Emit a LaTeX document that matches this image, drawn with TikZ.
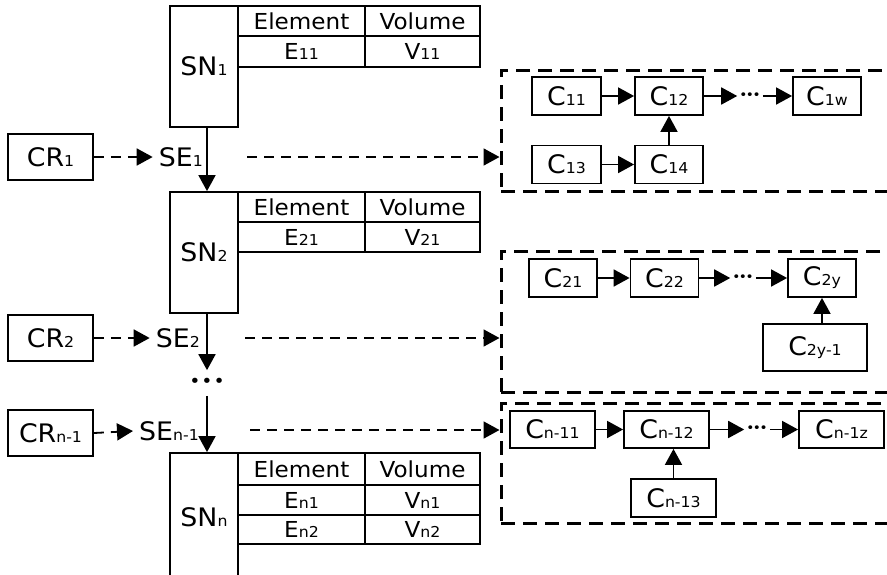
\documentclass[tikz,border=0pt]{standalone}
\usepackage{fontspec}
\setmainfont{DejaVu Sans}[FakeStretch=1.05]
\usetikzlibrary{arrows.meta, positioning, calc}
\newcommand{\lo}[1]{{\fontsize{15}{16}\selectfont #1}}
\newcommand{\labelfont}{\fontsize{25.5}{27}\selectfont}
\newcommand{\cellfont}{\fontsize{22}{24}\selectfont}
\tikzset{
  box/.style={draw, line width=1.8pt, inner sep=0pt, font=\labelfont},
  cell/.style={box, minimum height=30pt, font=\cellfont},
  cbox/.style={box, minimum width=68pt, minimum height=38pt},
  lbl/.style={inner sep=0pt, inner xsep=6pt, font=\labelfont},
  dotsnode/.style={inner sep=2pt, font=\fontsize{13}{13}\selectfont},
  arr/.style={-{Triangle[length=16pt,width=17pt]}, line width=1.8pt},
  darr/.style={arr, dash pattern=on 10pt off 7pt},
  group/.style={draw, line width=3pt, dash pattern=on 14pt off 8pt, minimum width=394pt},
}

\begin{document}
\begin{tikzpicture}[x=1pt, y=-1pt]
  \useasboundingbox (0,0) rectangle (887,574);
  \clip (0,0) rectangle (887,574);

  % SN1 and its table
  \node[box, minimum width=68pt, minimum height=121pt] (SN1) at (204,66.5) {SN\lo{1}};
  \node[cell, minimum width=127pt] (T1a) at (301.5,21) {Element};
  \node[cell, minimum width=115pt] (T1b) at (422.5,21) {Volume};
  \node[cell, minimum width=127pt, minimum height=31pt] (T1c) at (301.5,51.5) {E\lo{11}};
  \node[cell, minimum width=115pt, minimum height=31pt] (T1d) at (422.5,51.5) {V\lo{11}};

  % SN2 and its table
  \node[box, minimum width=68pt, minimum height=121pt] (SN2) at (204,252.5) {SN\lo{2}};
  \node[cell, minimum width=127pt] (T2a) at (301.5,207) {Element};
  \node[cell, minimum width=115pt] (T2b) at (422.5,207) {Volume};
  \node[cell, minimum width=127pt] (T2c) at (301.5,237) {E\lo{21}};
  \node[cell, minimum width=115pt] (T2d) at (422.5,237) {V\lo{21}};

  % SNn and its table
  \node[box, minimum width=68pt, minimum height=128pt] (SNn) at (204,517) {SN\lo{n}};
  \node[cell, minimum width=127pt, minimum height=32pt] (T3a) at (301.5,469) {Element};
  \node[cell, minimum width=115pt, minimum height=32pt] (T3b) at (422.5,469) {Volume};
  \node[cell, minimum width=127pt] (T3c) at (301.5,500) {E\lo{n1}};
  \node[cell, minimum width=115pt] (T3d) at (422.5,500) {V\lo{n1}};
  \node[cell, minimum width=127pt, minimum height=29pt] (T3e) at (301.5,529.5) {E\lo{n2}};
  \node[cell, minimum width=115pt, minimum height=29pt] (T3f) at (422.5,529.5) {V\lo{n2}};

  % CR boxes and SE labels
  \node[box, minimum width=85pt, minimum height=46pt] (CR1) at (50.5,157) {CR\lo{1}};
  \node[box, minimum width=85pt, minimum height=46pt] (CR2) at (50.5,338) {CR\lo{2}};
  \node[box, minimum width=85pt, minimum height=46pt] (CR3) at (50.5,433) {CR\lo{n-1}};
  \node[lbl, anchor=east] (SE1) at (209,157) {SE\lo{1}};
  \node[lbl, anchor=east] (SE2) at (206,338) {SE\lo{2}};
  \node[lbl, anchor=east] (SE3) at (205,431) {SE\lo{n-1}};
  \draw[darr] (CR1.east) -- (SE1.west);
  \draw[darr] (CR2.east) -- (SE2.west);
  \draw[darr] (CR3.east) -- (SE3.west);

  % main chain
  \node[dotsnode, inner ysep=8pt, font=\fontsize{18}{18}\selectfont] (vd) at (207,383) {•\kern1pt•\kern1pt•};
  \draw[arr] ([xshift=3pt]SN1.south) -- ([xshift=3pt]SN2.north);
  \draw[arr] ([xshift=3pt]SN2.south) -- (vd.north);
  \draw[arr] (vd.south) -- ([xshift=3pt]SNn.north);

  % dashed groups
  \node[group, minimum height=121pt] (G1) at (698,130.5) {};
  \node[group, minimum height=141pt] (G2) at (698,321.5) {};
  \node[group, minimum height=120pt] (G3) at (698,463) {};
  \coordinate (s1) at (247,157);
  \coordinate (s2) at (245,338);
  \coordinate (s3) at (250,430);
  \draw[darr] (s1) -- (s1 -| G1.west);
  \draw[darr] (s2) -- (s2 -| G2.west);
  \draw[darr] (s3) -- (s3 -| G3.west);

  % group 1
  \node[cbox, minimum width=69pt] (C11) at (566.5,96) {C\lo{11}};
  \node[cbox] (C12) at (669,96) {C\lo{12}};
  \node[cbox] (C1w) at (827,96) {C\lo{1w}};
  \node[cbox, minimum width=69pt] (C13) at (566.5,164.5) {C\lo{13}};
  \node[cbox] (C14) at (669,164.5) {C\lo{14}};
  \node[dotsnode] (d1) at (750,96) {•\kern-1.5pt•\kern-1.5pt•};
  \draw[arr] (C11) -- (C12);
  \draw[arr] (C12) -- (d1);
  \draw[arr] (d1) -- (C1w);
  \draw[arr] (C13) -- (C14);
  \draw[arr] (C14) -- (C12);

  % group 2
  \node[cbox] (C21) at (563,278) {C\lo{21}};
  \node[cbox] (C22) at (664.5,278) {C\lo{22}};
  \node[cbox] (C2y) at (822,278) {C\lo{2y}};
  \node[box, minimum width=104pt, minimum height=47pt] (C2m) at (815,347.5) {C\lo{2y-1}};
  \node[dotsnode] (d2) at (743,278) {•\kern-1.5pt•\kern-1.5pt•};
  \draw[arr] (C21) -- (C22);
  \draw[arr] (C22) -- (d2);
  \draw[arr] (d2) -- (C2y);
  \draw[arr] (C2m.north -| C2y.south) -- (C2y.south);

  % group 3
  \node[cbox, minimum width=85pt, minimum height=37pt] (Cn1) at (552.5,429.5) {C\lo{n-11}};
  \node[cbox, minimum width=85pt, minimum height=37pt] (Cn2) at (666.5,429.5) {C\lo{n-12}};
  \node[cbox, minimum width=85pt, minimum height=37pt] (Cnz) at (841.5,429.5) {C\lo{n-1z}};
  \node[cbox, minimum width=85pt] (Cn3) at (673.5,498) {C\lo{n-13}};
  \node[dotsnode] (d3) at (757,429.5) {•\kern-1.5pt•\kern-1.5pt•};
  \draw[arr] (Cn1) -- (Cn2);
  \draw[arr] (Cn2) -- (d3);
  \draw[arr] (d3) -- (Cnz);
  \draw[arr] (Cn3.north) -- (Cn3.north |- Cn2.south);
\end{tikzpicture}
\end{document}
